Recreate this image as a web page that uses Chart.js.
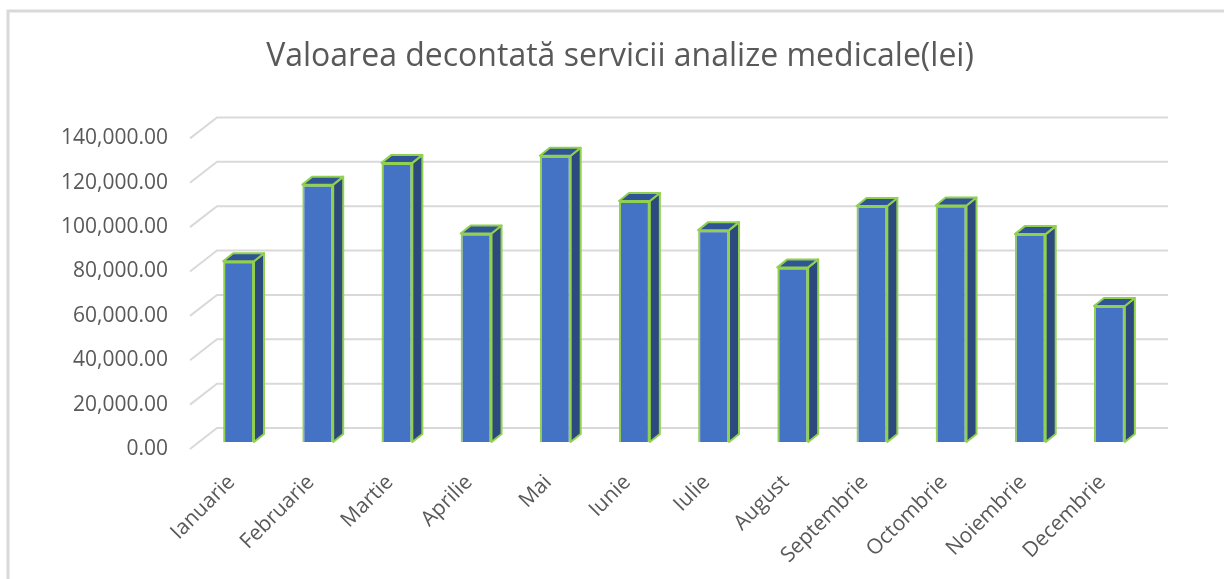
<!DOCTYPE html>
<html>
<head>
<meta charset="utf-8">
<script src="https://cdn.jsdelivr.net/npm/chart.js@4"></script>
<style>
  html, body { margin: 0; padding: 0; background: #fff; }
  #wrap { width: 1224px; height: 579px; position: relative; }
</style>
</head>
<body>
<div id="wrap"><canvas id="decontChart" width="1224" height="579"></canvas></div>
<script>
// Valoarea decontata servicii analize medicale (lei), pe luni
const months = [
    'Ianuarie', 'Februarie', 'Martie', 'Aprilie', 'Mai', 'Iunie',
    'Iulie', 'August', 'Septembrie', 'Octombrie', 'Noiembrie', 'Decembrie'
];

const values = [81500, 116000, 125800, 94000, 129000, 108600, 95500, 78700, 106400, 106600, 93700, 61300];

const yTicks = [0, 20000, 40000, 60000, 80000, 100000, 120000, 140000];

const chartTitle = 'Valoarea decontată servicii analize medicale(lei)';

// 3D look: depth offsets of the column and of the back wall
const DEPTH_X = 10, DEPTH_Y = -8;

const fmt = v => v.toLocaleString('en-US', { minimumFractionDigits: 2, maximumFractionDigits: 2 });

// frame, title and back wall gridlines (drawn behind the columns)
const wallPlugin = {
    id: 'wall',
    beforeDraw(chart) {
        const c = chart.ctx;
        c.save();
        c.strokeStyle = '#D9D9D9';
        c.lineWidth = 3;
        c.beginPath();
        c.moveTo(8, 579);
        c.lineTo(8, 11);
        c.lineTo(1224, 11);
        c.stroke();
        // title, centred on the whole chart box
        c.fillStyle = '#595959';
        c.font = '32px "Open Sans"';
        c.textAlign = 'center';
        c.textBaseline = 'middle';
        c.fillText(chartTitle, 620, 57);
        c.restore();
    },
    beforeDatasetsDraw(chart) {
        const c = chart.ctx;
        const y = chart.scales.y;
        const area = chart.chartArea;
        c.save();
        c.strokeStyle = '#D9D9D9';
        c.lineWidth = 2;
        yTicks.forEach(v => {
            const py = y.getPixelForValue(v);
            c.beginPath();
            c.moveTo(area.left - 9, py + 7);
            c.lineTo(area.left + 18, py - 14);
            c.lineTo(area.right + 19, py - 14);
            c.stroke();
        });
        c.restore();
    }
};

// side and top faces of each column
const columnPlugin = {
    id: 'column3d',
    afterDatasetsDraw(chart) {
        const c = chart.ctx;
        const meta = chart.getDatasetMeta(0);
        c.save();
        c.lineWidth = 2;
        c.lineJoin = 'round';
        c.strokeStyle = '#92D050';
        meta.data.forEach(bar => {
            const p = bar.getProps(['x', 'y', 'base', 'width'], true);
            const l = p.x - p.width / 2, r = p.x + p.width / 2;
            // side
            c.beginPath();
            c.moveTo(r, p.y);
            c.lineTo(r + DEPTH_X, p.y + DEPTH_Y);
            c.lineTo(r + DEPTH_X, p.base + DEPTH_Y);
            c.lineTo(r, p.base);
            c.closePath();
            c.fillStyle = '#2C4A7E';
            c.fill();
            c.stroke();
            // top
            c.beginPath();
            c.moveTo(l, p.y);
            c.lineTo(l + DEPTH_X, p.y + DEPTH_Y);
            c.lineTo(r + DEPTH_X, p.y + DEPTH_Y);
            c.lineTo(r, p.y);
            c.closePath();
            c.fillStyle = '#2F5597';
            c.fill();
            c.stroke();
        });
        c.restore();
    }
};

const ctx = document.getElementById('decontChart').getContext('2d');

new Chart(ctx, {
    type: 'bar',
    data: {
        labels: months,
        datasets: [{
            label: 'Valoarea decontată',
            data: values,
            backgroundColor: '#4472C4',
            borderColor: '#92D050',
            borderWidth: 2,
            categoryPercentage: 1,
            barPercentage: 0.39
        }]
    },
    options: {
        responsive: false,
        animation: false,
        layout: {
            padding: { left: 0, right: 75, top: 131.4, bottom: 0 }
        },
        plugins: {
            legend: { display: false },
            tooltip: { enabled: false },
            title: { display: false }
        },
        scales: {
            y: {
                min: 0,
                max: 140000,
                afterFit: s => { s.width = 199; },
                grid: { display: false, drawTicks: false },
                border: { display: false },
                ticks: {
                    stepSize: 20000,
                    padding: 31,
                    labelOffset: 7,
                    color: '#595959',
                    font: { family: 'Open Sans', size: 21 },
                    callback: v => fmt(v)
                }
            },
            x: {
                afterFit: s => { s.height = 137; },
                grid: { display: false, drawTicks: false },
                border: { display: false },
                ticks: {
                    minRotation: 45,
                    maxRotation: 45,
                    padding: 28,
                    labelOffset: -7,
                    color: '#595959',
                    font: { family: 'Open Sans', size: 21 }
                }
            }
        }
    },
    plugins: [wallPlugin, columnPlugin]
});
</script>
</body>
</html>
